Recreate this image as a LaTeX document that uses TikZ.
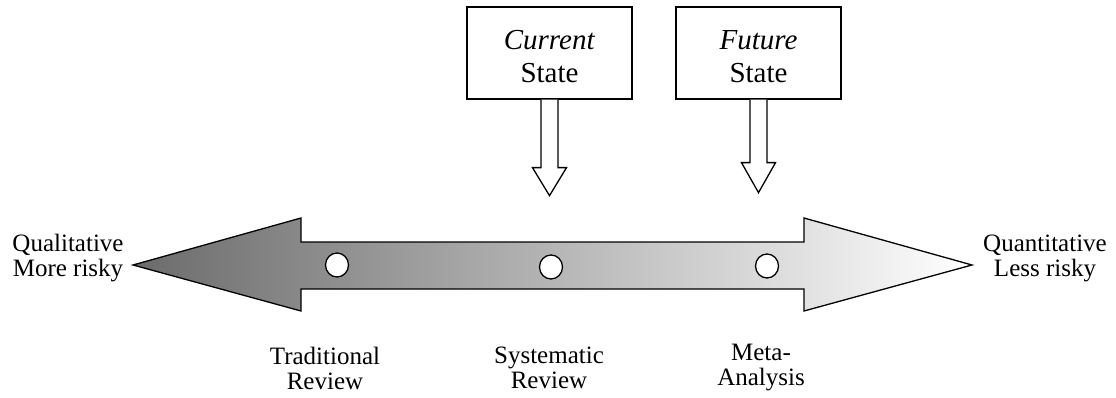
\documentclass[tikz,border=0pt]{standalone}
\usepackage{fontspec}
\setmainfont{Liberation Serif}
\usetikzlibrary{calc,shapes.geometric}
\begin{document}
\begin{tikzpicture}[x=1pt,y=-1pt,
  outline/.style={draw=black,line width=1.3pt,line join=miter},
  statebox/.style={outline,fill=white,minimum width=165pt,minimum height=92pt,
    inner sep=0pt,align=center,font=\fontsize{29}{33}\selectfont},
  label/.style={align=center,inner sep=0pt,font=\fontsize{25}{25}\selectfont},
  marker/.style={outline,fill=white,ellipse,minimum width=23pt,minimum height=24pt,inner sep=0pt}
]
\useasboundingbox (0,0) rectangle (1116,398);

% double-headed scale arrow with a dark-to-light gradient
\path[outline,left color=black!58,right color=white]
  (133,265) -- (301,218) -- (301,242) -- (804,242) -- (804,218) -- (972,265)
  -- (804,311) -- (804,289) -- (301,289) -- (301,311) -- cycle;

% positions along the scale
\node[marker] (trad) at (337,265) {};
\node[marker] (sys) at (551,267) {};
\node[marker] (meta) at (767,266) {};

% end labels
\node[label] (qual) at (68,258) {Qualitative\\More risky};
\node[label] (quant) at (1045,258) {Quantitative\\Less risky};

% method labels
\node[label] (tradlbl) at (325,368) {Traditional\\Review};
\node[label] (syslbl) at (549,368) {Systematic\\Review};
\node[label] (metalbl) at (761,368) {Meta-\\Analysis};

% state boxes
\node[statebox] (cur) at (549.5,53) {};
\node[statebox] (fut) at (758.5,53) {};
\node[align=center,inner sep=0pt,font=\fontsize{29}{33}\selectfont] at ($(cur.center)+(0,4)$) {\textit{Current}\\State};
\node[align=center,inner sep=0pt,font=\fontsize{29}{33}\selectfont] at ($(fut.center)+(0,4)$) {\textit{Future}\\State};

% hollow block arrows pointing down onto the scale
\draw[outline,fill=white] ($(cur.south)+(-8.5,0)$) -- ++(0,68) -- ++(-8.5,0)
  -- ($(cur.south)+(0,96)$) -- ($(cur.south)+(17,68)$) -- ++(-8.5,0)
  -- ($(cur.south)+(8.5,0)$);
\draw[outline,fill=white] ($(fut.south)+(-8.5,0)$) -- ++(0,63) -- ++(-8.5,0)
  -- ($(fut.south)+(0,93)$) -- ($(fut.south)+(17,63)$) -- ++(-8.5,0)
  -- ($(fut.south)+(8.5,0)$);
\end{tikzpicture}
\end{document}
